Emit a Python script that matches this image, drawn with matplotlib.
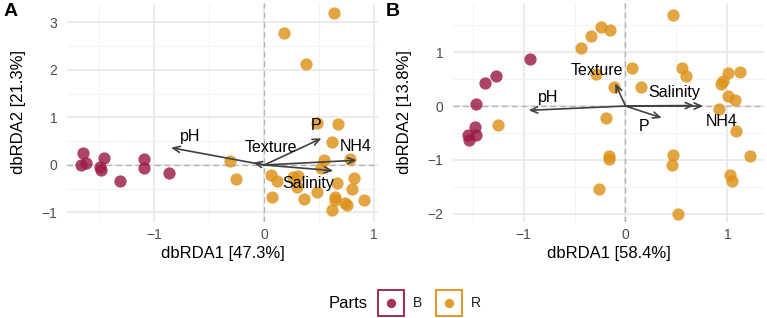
import numpy as np
import matplotlib
matplotlib.use("Agg")
import matplotlib.pyplot as plt
from matplotlib.patches import Rectangle
from matplotlib.ticker import MultipleLocator

plt.rcParams['font.family'] = ['Liberation Sans', 'DejaVu Sans']

parts = ["B", "R"]
part_colors = {"B": "#9B1B48", "R": "#DD9218"}
env_names = ["pH", "Texture", "P", "NH4", "Salinity"]

# panel A (dbRDA on first dataset)
a_b_x = [-1.645, -1.67, -1.62, -1.46, -1.49, -1.485, -1.31, -1.09, -1.09, -0.867]
a_b_y = [0.245, -0.01, 0.035, 0.15, -0.035, -0.105, -0.34, 0.13, -0.055, -0.175]
a_r_x = [0.636, 0.176, 0.379, 0.476, 0.673, 0.62, 0.78, 0.543, -0.312, 0.515,
         -0.258, 0.058, 0.113, 0.264, 0.31, 0.30, 0.476, 0.664, 0.818, 0.80,
         0.067, 0.36, 0.643, 0.643, 0.733, 0.755, 0.906, 0.618]
a_r_y = [3.21, 2.77, 2.12, 0.88, 0.855, 0.49, 0.12, 0.105, 0.085, -0.07,
         -0.29, -0.21, -0.336, -0.26, -0.23, -0.47, -0.56, -0.385, -0.28, -0.51,
         -0.68, -0.72, -0.666, -0.74, -0.806, -0.84, -0.735, -0.946]
a_arrow_x = [-0.848, -0.1, 0.52, 0.84, 0.627]
a_arrow_y = [0.364, 0.05, 0.56, 0.10, -0.12]
a_lab_x = [-0.676, 0.058, 0.47, 0.83, 0.4]
a_lab_y = [0.6, 0.37, 0.84, 0.385, -0.385]

# panel B
b_b_x = [-0.94, -1.27, -1.38, -1.47, -1.48, -1.47, -1.55, -1.54]
b_b_y = [0.87, 0.55, 0.42, 0.04, -0.39, -0.53, -0.54, -0.63]
b_r_x = [0.47, -0.24, -0.147, -0.336, -0.434, 0.062, 0.551, 0.594, -0.287, -0.117,
         0.153, 1.008, 1.126, 0.953, 0.936, 1.011, 1.077, 0.914, -0.189, -1.256,
         1.083, -0.157, -0.157, 0.47, 0.457, 1.22, 1.024, 1.044, -0.261, 0.512]
b_r_y = [1.69, 1.46, 1.41, 1.29, 1.07, 0.70, 0.71, 0.56, 0.59, 0.36,
         0.35, 0.62, 0.63, 0.47, 0.40, 0.19, 0.12, -0.06, -0.22, -0.36,
         -0.47, -0.93, -0.99, -0.91, -1.09, -0.93, -1.27, -1.39, -1.53, -2.01]
b_arrow_x = [-0.95, -0.1, 0.356, 0.763, 0.675]
b_arrow_y = [-0.08, 0.42, -0.22, 0.0, 0.01]
b_lab_x = [-0.76, -0.28, 0.186, 0.94, 0.48]
b_lab_y = [0.155, 0.65, -0.385, -0.28, 0.26]

W, H = 767, 318
fig = plt.figure(figsize=(W / 100, H / 100), dpi=100)


def px_axes(left, right, top, bottom):
    return fig.add_axes([left / W, 1 - bottom / H, (right - left) / W, (bottom - top) / H])


def draw_panel(ax, pts, arr_x, arr_y, lab_x, lab_y, xlim, ylim, xlab, ylab, tag, tag_x):
    ax.set_xlim(*xlim)
    ax.set_ylim(*ylim)
    for s in ax.spines.values():
        s.set_visible(False)
    ax.xaxis.set_major_locator(MultipleLocator(1))
    ax.yaxis.set_major_locator(MultipleLocator(1))
    ax.xaxis.set_minor_locator(MultipleLocator(0.5))
    ax.yaxis.set_minor_locator(MultipleLocator(0.5))
    ax.grid(True, which='major', color='#e6e6e6', lw=1.1)
    ax.grid(True, which='minor', color='#f2f2f2', lw=0.7)
    ax.set_axisbelow(True)
    ax.tick_params(which='both', length=0)
    ax.tick_params(axis='x', pad=4, labelsize=10, labelcolor='#4d4d4d')
    ax.tick_params(axis='y', pad=7, labelsize=10, labelcolor='#4d4d4d')
    ax.axhline(0, color='#b3b3b3', lw=1, ls=(0, (4, 3)), zorder=1)
    ax.axvline(0, color='#b3b3b3', lw=1, ls=(0, (4, 3)), zorder=1)
    for p in parts:
        x, y = pts[p]
        ax.scatter(x, y, s=78, color=part_colors[p], alpha=0.82, lw=0, zorder=2)
    for i, name in enumerate(env_names):
        ax.annotate("", xy=(arr_x[i], arr_y[i]), xytext=(0, 0),
                    arrowprops=dict(arrowstyle='->,head_length=0.5,head_width=0.22',
                                    color='#404040', lw=1.2, shrinkA=0, shrinkB=0),
                    zorder=3)
        ax.text(lab_x[i], lab_y[i], name, fontsize=11.5, ha='center', va='center',
                color='black', zorder=4)
    ax.set_xlabel(xlab, fontsize=12, labelpad=3)
    ax.set_ylabel(ylab, fontsize=12, labelpad=11)
    ax.text(tag_x, 1.0, tag, transform=ax.transAxes, fontsize=14, fontweight='bold',
            ha='left', va='top')


ax1 = px_axes(67, 378, 3, 222)
draw_panel(ax1, {"B": (a_b_x, a_b_y), "R": (a_r_x, a_r_y)},
           a_arrow_x, a_arrow_y, a_lab_x, a_lab_y,
           (-1.794, 1.034), (-1.20, 3.41),
           "dbRDA1 [47.3%]", "dbRDA2 [21.3%]", "A", -0.205)

ax2 = px_axes(453, 764, 3, 222)
draw_panel(ax2, {"B": (b_b_x, b_b_y), "R": (b_r_x, b_r_y)},
           b_arrow_x, b_arrow_y, b_lab_x, b_lab_y,
           (-1.693, 1.360), (-2.15, 1.91),
           "dbRDA1 [58.4%]", "dbRDA2 [13.8%]", "B", -0.215)

# legend drawn in its own pixel-space axes
lg = fig.add_axes([0, 0, 1, 1], facecolor='none')
lg.set_xlim(0, W)
lg.set_ylim(H, 0)
lg.axis('off')
lg.text(368, 303, "Parts", fontsize=12, ha='right', va='center')
key_x = [378, 436]
for kx, p in zip(key_x, parts):
    lg.add_patch(Rectangle((kx, 290), 26, 26, fill=False, ec=part_colors[p], lw=1.3))
    lg.scatter([kx + 13], [303], s=45, color=part_colors[p], alpha=0.9, lw=0)
    lg.text(kx + 35, 303, p, fontsize=10, ha='left', va='center', color='#1a1a1a')

fig.savefig("out.png", dpi=100)
